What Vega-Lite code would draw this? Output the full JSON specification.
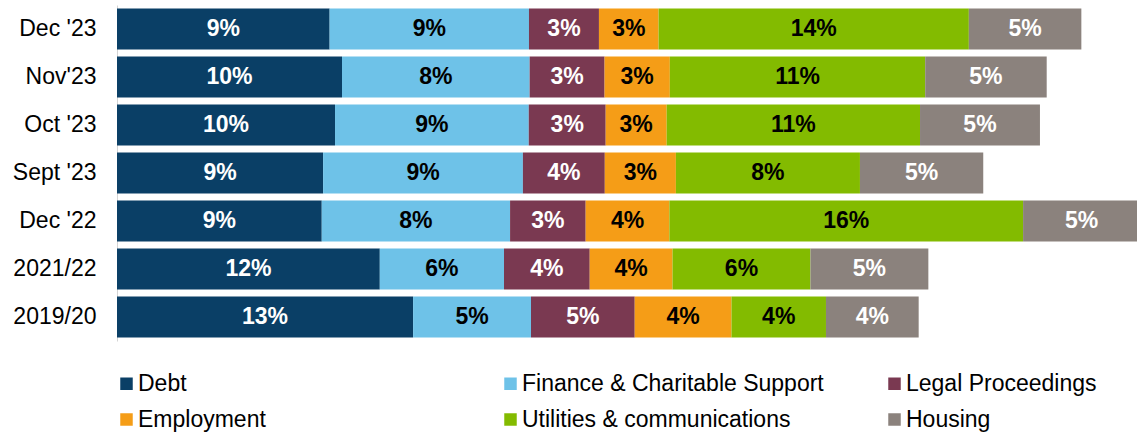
{
  "$schema": "https://vega.github.io/schema/vega-lite/v6.json",
  "autosize": {"type": "none"},
  "width": 1020,
  "height": 336,
  "padding": {"left": 117, "top": 5, "right": 0, "bottom": 92},
  "background": "white",
  "config": {"view": {"stroke": null}, "font": "Arial"},
  "data": {
    "values": [
      {"period": "Dec '23", "category": "Debt", "idx": 1, "value": 0.0945},
      {"period": "Dec '23", "category": "Finance & Charitable Support", "idx": 2, "value": 0.0886},
      {"period": "Dec '23", "category": "Legal Proceedings", "idx": 3, "value": 0.0311},
      {"period": "Dec '23", "category": "Employment", "idx": 4, "value": 0.0265},
      {"period": "Dec '23", "category": "Utilities & communications", "idx": 5, "value": 0.1379},
      {"period": "Dec '23", "category": "Housing", "idx": 6, "value": 0.0500},
      {"period": "Nov'23", "category": "Debt", "idx": 1, "value": 0.1000},
      {"period": "Nov'23", "category": "Finance & Charitable Support", "idx": 2, "value": 0.0834},
      {"period": "Nov'23", "category": "Legal Proceedings", "idx": 3, "value": 0.0333},
      {"period": "Nov'23", "category": "Employment", "idx": 4, "value": 0.0290},
      {"period": "Nov'23", "category": "Utilities & communications", "idx": 5, "value": 0.1135},
      {"period": "Nov'23", "category": "Housing", "idx": 6, "value": 0.0540},
      {"period": "Oct '23", "category": "Debt", "idx": 1, "value": 0.0969},
      {"period": "Oct '23", "category": "Finance & Charitable Support", "idx": 2, "value": 0.0861},
      {"period": "Oct '23", "category": "Legal Proceedings", "idx": 3, "value": 0.0342},
      {"period": "Oct '23", "category": "Employment", "idx": 4, "value": 0.0271},
      {"period": "Oct '23", "category": "Utilities & communications", "idx": 5, "value": 0.1126},
      {"period": "Oct '23", "category": "Housing", "idx": 6, "value": 0.0533},
      {"period": "Sept '23", "category": "Debt", "idx": 1, "value": 0.0916},
      {"period": "Sept '23", "category": "Finance & Charitable Support", "idx": 2, "value": 0.0888},
      {"period": "Sept '23", "category": "Legal Proceedings", "idx": 3, "value": 0.0364},
      {"period": "Sept '23", "category": "Employment", "idx": 4, "value": 0.0316},
      {"period": "Sept '23", "category": "Utilities & communications", "idx": 5, "value": 0.0818},
      {"period": "Sept '23", "category": "Housing", "idx": 6, "value": 0.0548},
      {"period": "Dec '22", "category": "Debt", "idx": 1, "value": 0.0910},
      {"period": "Dec '22", "category": "Finance & Charitable Support", "idx": 2, "value": 0.0837},
      {"period": "Dec '22", "category": "Legal Proceedings", "idx": 3, "value": 0.0336},
      {"period": "Dec '22", "category": "Employment", "idx": 4, "value": 0.0372},
      {"period": "Dec '22", "category": "Utilities & communications", "idx": 5, "value": 0.1572},
      {"period": "Dec '22", "category": "Housing", "idx": 6, "value": 0.0520},
      {"period": "2021/22", "category": "Debt", "idx": 1, "value": 0.1168},
      {"period": "2021/22", "category": "Finance & Charitable Support", "idx": 2, "value": 0.0552},
      {"period": "2021/22", "category": "Legal Proceedings", "idx": 3, "value": 0.0381},
      {"period": "2021/22", "category": "Employment", "idx": 4, "value": 0.0368},
      {"period": "2021/22", "category": "Utilities & communications", "idx": 5, "value": 0.0613},
      {"period": "2021/22", "category": "Housing", "idx": 6, "value": 0.0524},
      {"period": "2019/20", "category": "Debt", "idx": 1, "value": 0.1316},
      {"period": "2019/20", "category": "Finance & Charitable Support", "idx": 2, "value": 0.0524},
      {"period": "2019/20", "category": "Legal Proceedings", "idx": 3, "value": 0.0461},
      {"period": "2019/20", "category": "Employment", "idx": 4, "value": 0.0430},
      {"period": "2019/20", "category": "Utilities & communications", "idx": 5, "value": 0.0420},
      {"period": "2019/20", "category": "Housing", "idx": 6, "value": 0.0412}
    ]
  },
  "encoding": {
    "y": {
      "field": "period",
      "type": "nominal",
      "sort": null,
      "title": null,
      "scale": {"paddingInner": 0.146, "paddingOuter": 0.073},
      "axis": {
        "ticks": false,
        "labelFont": "Arial",
        "labelFontSize": 23,
        "labelColor": "#000000",
        "labelPadding": 21,
        "domainColor": "#d4d4d4",
        "domainWidth": 1
      }
    }
  },
  "layer": [
    {
      "mark": {"type": "bar", "clip": true},
      "encoding": {
        "x": {
          "field": "value",
          "type": "quantitative",
          "stack": "zero",
          "scale": {"domain": [0, 0.453333], "nice": false},
          "axis": null
        },
        "order": {"field": "idx", "type": "quantitative"},
        "color": {
          "field": "category",
          "type": "nominal",
          "sort": null,
          "scale": {
            "domain": ["Debt", "Finance & Charitable Support", "Legal Proceedings", "Employment", "Utilities & communications", "Housing"],
            "range": ["#0A3F66", "#6EC2E8", "#7A3951", "#F59D17", "#83BB00", "#8B827D"]
          },
          "legend": {
            "orient": "none",
            "legendX": -2,
            "legendY": 367,
            "direction": "horizontal",
            "columns": 3,
            "gridAlign": "all",
            "columnPadding": 59,
            "rowPadding": 12,
            "padding": 0,
            "title": null,
            "symbolType": "square",
            "symbolSize": 156,
            "symbolStrokeWidth": 0,
            "labelFont": "Arial",
            "labelFontSize": 23,
            "labelColor": "#000000",
            "labelOffset": 0,
            "labelLimit": 0
          }
        }
      }
    },
    {
      "mark": {"type": "text", "font": "Arial", "fontSize": 23, "fontWeight": "bold", "align": "center", "baseline": "middle"},
      "encoding": {
        "x": {
          "field": "value",
          "type": "quantitative",
          "stack": "zero",
          "bandPosition": 0.5
        },
        "order": {"field": "idx", "type": "quantitative"},
        "detail": {"field": "category", "type": "nominal"},
        "text": {"field": "value", "type": "quantitative", "format": ".0%"},
        "color": {
          "condition": {"test": "datum.category === 'Debt' || datum.category === 'Legal Proceedings' || datum.category === 'Housing'", "value": "#ffffff"},
          "value": "#000000"
        }
      }
    }
  ]
}
